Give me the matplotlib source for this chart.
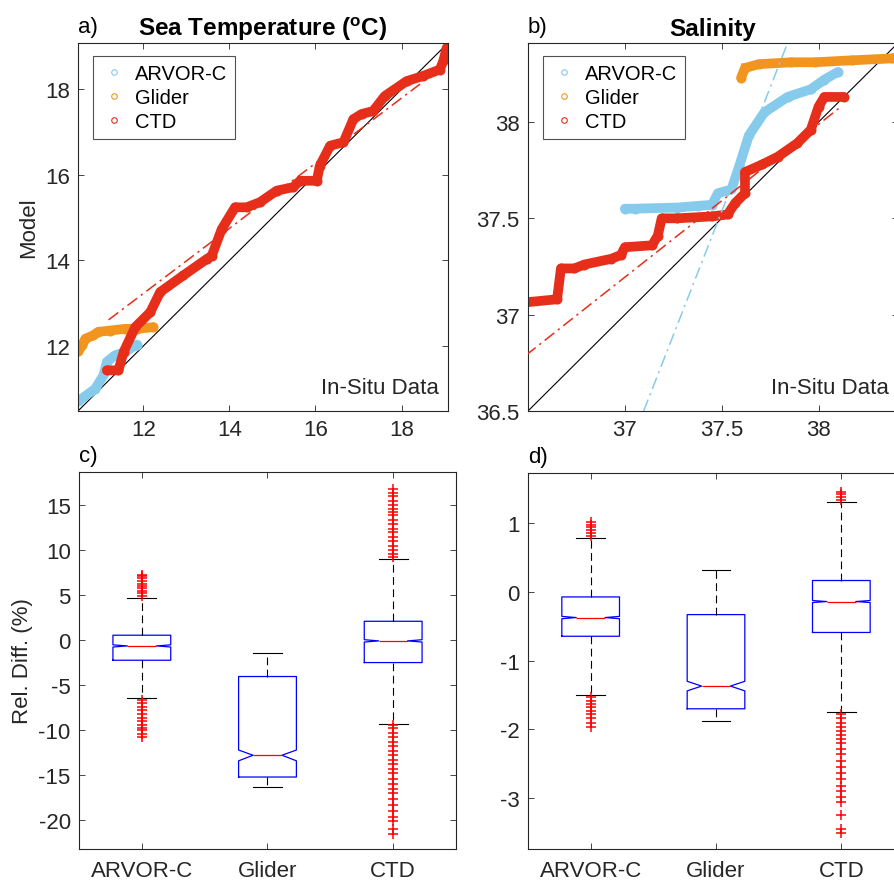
import numpy as np
import matplotlib.pyplot as plt
from matplotlib.lines import Line2D

plt.rcParams["font.family"] = ["Liberation Sans", "DejaVu Sans"]
plt.rcParams["axes.unicode_minus"] = False

C_ARVOR = "#86CBEC"
C_GLIDER = "#F2951F"
C_CTD = "#E62E1B"
TXT = "#262626"

# ---- a) temperature quantiles (in-situ, model)
t_arvor_x = [10.49, 10.88, 11.07, 11.15, 11.34, 11.57, 11.85]
t_arvor_y = [10.71, 11.00, 11.31, 11.63, 11.78, 11.86, 12.03]
t_glider_x = [10.49, 10.58, 10.65, 10.84, 10.95, 11.23, 11.57, 11.85, 12.23]
t_glider_y = [11.88, 12.02, 12.17, 12.25, 12.33, 12.36, 12.40, 12.40, 12.44]
t_ctd_x = [11.15, 11.42, 11.54, 11.81, 12.16, 12.39, 12.93, 13.47, 13.59, 13.82,
           14.13, 14.40, 14.71, 15.10, 15.48, 15.64, 16.03, 16.10, 16.34, 16.65,
           16.88, 17.07, 17.34, 17.61, 18.12, 18.50, 18.89, 18.97, 19.05]
t_ctd_y = [11.43, 11.43, 11.86, 12.44, 12.79, 13.26, 13.65, 14.03, 14.11, 14.73,
           15.24, 15.24, 15.36, 15.63, 15.71, 15.86, 15.86, 16.21, 16.68, 16.76,
           17.30, 17.42, 17.49, 17.84, 18.19, 18.31, 18.46, 18.66, 18.97]
t_ctd_ref = ([11.19, 18.43], [12.61, 18.12])
t_lim = (10.48, 19.08)

# ---- b) salinity quantiles
s_arvor_x = [37.00, 37.05, 37.27, 37.38, 37.45, 37.48, 37.55, 37.59, 37.64,
             37.72, 37.84, 37.96, 38.03, 38.10]
s_arvor_y = [37.55, 37.55, 37.556, 37.565, 37.57, 37.63, 37.65, 37.77, 37.93,
             38.05, 38.13, 38.17, 38.22, 38.26]
s_glider_x = [37.60, 37.62, 37.69, 37.86, 37.98, 38.17, 38.38, 38.45]
s_glider_y = [38.23, 38.28, 38.30, 38.31, 38.31, 38.32, 38.33, 38.34]
s_ctd_x = [36.49, 36.65, 36.67, 36.74, 36.79, 36.93, 36.98, 37.00, 37.14, 37.17,
           37.19, 37.27, 37.45, 37.53, 37.57, 37.62, 37.62, 37.71, 37.79, 37.89,
           37.96, 38.00, 38.03, 38.13]
s_ctd_y = [37.064, 37.08, 37.24, 37.24, 37.26, 37.29, 37.31, 37.35, 37.36, 37.41,
           37.50, 37.50, 37.51, 37.52, 37.58, 37.63, 37.74, 37.78, 37.82, 37.89,
           37.96, 38.08, 38.13, 38.13]
s_ctd_ref = ([36.49, 38.11], [36.79, 38.075])
s_arvor_ref = ([37.097, 37.84], [36.5, 38.41])
s_glider_ref = ([37.60, 38.45], [38.30, 38.34])
s_lim = (36.5, 38.41)

# ---- c), d) relative differences (%)
groups = ["ARVOR-C", "Glider", "CTD"]
temp_stats = {
    "q1": [-2.22, -15.2, -2.48], "med": [-0.63, -12.78, -0.07], "q3": [0.56, -4.03, 2.11],
    "lo": [-6.44, -16.3, -9.28], "hi": [4.74, -1.44, 9.08],
    "cilo": [-0.75, -13.4, -0.2], "cihi": [-0.51, -12.2, 0.06],
}
temp_fliers = [
    [4.9, 5.2, 5.5, 5.8, 6.0, 6.3, 6.6, 6.9, 7.1, 7.3,
     -6.6, -7.0, -7.4, -7.8, -8.2, -8.6, -9.0, -9.4, -9.7, -10.0, -10.4, -10.8],
    [],
    [9.2, 9.6, 10.0, 10.5, 11.0, 11.5, 12.0, 12.4, 12.9, 13.4, 13.9, 14.3, 14.6,
     15.0, 15.5, 16.0, 16.4, 16.8,
     -9.4, -9.8, -10.3, -10.8, -11.3, -11.8, -12.3, -12.8, -13.3, -13.8, -14.3,
     -14.8, -15.4, -16.0, -16.5, -17.0, -17.6, -18.3, -19.0, -19.6, -20.1, -21.0, -21.5],
]
sal_stats = {
    "q1": [-0.645, -1.70, -0.59], "med": [-0.373, -1.37, -0.14], "q3": [-0.073, -0.33, 0.166],
    "lo": [-1.50, -1.88, -1.75], "hi": [0.79, 0.316, 1.31],
    "cilo": [-0.39, -1.44, -0.155], "cihi": [-0.356, -1.30, -0.125],
}
sal_fliers = [
    [0.82, 0.86, 0.90, 0.94, 0.98, 1.01,
     -1.53, -1.58, -1.63, -1.68, -1.73, -1.78, -1.84, -1.90, -1.96],
    [],
    [1.34, 1.38, 1.42, 1.46,
     -1.78, -1.84, -1.90, -1.96, -2.02, -2.08, -2.14, -2.20, -2.28, -2.36, -2.46,
     -2.55, -2.64, -2.72, -2.82, -2.90, -2.98, -3.06, -3.24, -3.45, -3.50],
]


def style_axes(ax):
    ax.tick_params(direction="in", length=4, width=0.6, top=True, right=True,
                   labelsize=16, colors=TXT, pad=6)
    for sp in ax.spines.values():
        sp.set_linewidth(0.8)
        sp.set_color(TXT)


def qq_panel(ax, series, lim, refs, title, letter, ticks):
    ax.plot(lim, lim, color="black", lw=0.8, zorder=1)
    for x, y, c in series:
        ax.plot(x, y, "-o", color=c, lw=7, ms=6, mfc="none", mew=1.2,
                solid_joinstyle="round", solid_capstyle="round", zorder=2)
    for (rx, ry), c in refs:
        ax.plot(rx, ry, color=c, lw=1.1, ls=(0, (8, 3, 1.5, 3)), zorder=3)
    ax.set_xlim(lim)
    ax.set_ylim(lim)
    ax.set_xticks(ticks)
    ax.set_yticks(ticks)
    ax.set_xticklabels([f"{t:g}" for t in ticks])
    ax.set_yticklabels([f"{t:g}" for t in ticks])
    style_axes(ax)
    ax.text(0.975, 0.035, "In-Situ Data", transform=ax.transAxes, ha="right",
            va="bottom", fontsize=16, color=TXT)
    ax.set_title(title, fontsize=17.5, fontweight="bold", color="black", pad=6)
    ax.text(0.0, 1.015, letter, transform=ax.transAxes, ha="left", va="bottom",
            fontsize=16, color="black")
    handles = [Line2D([], [], ls="none", marker="o", ms=4, mfc="none", mew=0.8,
                      color=c) for c in (C_ARVOR, C_GLIDER, C_CTD)]
    ax.legend(handles, groups, loc="upper left", bbox_to_anchor=(0.04, 0.965),
              borderaxespad=0, fontsize=14.5, frameon=True, fancybox=False,
              edgecolor=TXT, borderpad=0.4, handletextpad=0.4, labelspacing=0.25,
              handlelength=1.3).get_frame().set_linewidth(0.8)


def box_panel(ax, stats, fliers, ylim, yticks, letter):
    bstats = []
    for i, name in enumerate(groups):
        bstats.append(dict(label=name, q1=stats["q1"][i], med=stats["med"][i],
                           q3=stats["q3"][i], whislo=stats["lo"][i],
                           whishi=stats["hi"][i], cilo=stats["cilo"][i],
                           cihi=stats["cihi"][i], fliers=fliers[i]))
    ax.bxp(bstats, positions=[1, 2, 3], widths=0.46, shownotches=True,
           boxprops=dict(color="#0000FF", lw=0.9),
           medianprops=dict(color="#FF0000", lw=0.9),
           whiskerprops=dict(color="black", lw=0.8, ls=(0, (7, 4))),
           capprops=dict(color="black", lw=0.8),
           flierprops=dict(marker="+", markeredgecolor="#FF0000", ms=7, mew=1.1))
    ax.set_xlim(0.5, 3.5)
    ax.set_ylim(ylim)
    ax.set_yticks(yticks)
    ax.set_yticklabels([f"{t:g}" for t in yticks])
    style_axes(ax)
    ax.tick_params(axis="x", pad=8)
    ax.text(0.0, 1.015, letter, transform=ax.transAxes, ha="left", va="bottom",
            fontsize=16, color="black")


fig = plt.figure(figsize=(8.94, 8.87), dpi=100)
W, H = 894, 887


def add_ax(l, t, w, h):
    return fig.add_axes([l / W, (H - t - h) / H, w / W, h / H])


ax_a = add_ax(78, 44, 370, 368)
ax_b = add_ax(528, 44, 370, 368)
ax_c = add_ax(79, 473, 377, 377)
ax_d = add_ax(528, 474, 376, 376)

qq_panel(ax_a,
         [(t_arvor_x, t_arvor_y, C_ARVOR), (t_glider_x, t_glider_y, C_GLIDER),
          (t_ctd_x, t_ctd_y, C_CTD)],
         t_lim, [(t_ctd_ref, C_CTD)],
         "Sea Temperature ($\\mathregular{^{o}}$C)", "a)", [12, 14, 16, 18])
ax_a.set_ylabel("Model", fontsize=16, color=TXT, labelpad=4)

qq_panel(ax_b,
         [(s_arvor_x, s_arvor_y, C_ARVOR), (s_glider_x, s_glider_y, C_GLIDER),
          (s_ctd_x, s_ctd_y, C_CTD)],
         s_lim, [(s_ctd_ref, C_CTD), (s_arvor_ref, C_ARVOR), (s_glider_ref, C_GLIDER)],
         "Salinity", "b)", [36.5, 37, 37.5, 38])
ax_b.set_xticks([37, 37.5, 38])
ax_b.set_xticklabels(["37", "37.5", "38"])

box_panel(ax_c, temp_stats, temp_fliers, (-23.2, 18.7),
          [-20, -15, -10, -5, 0, 5, 10, 15], "c)")
ax_c.set_ylabel("Rel. Diff. (%)", fontsize=16, color=TXT, labelpad=4)
box_panel(ax_d, sal_stats, sal_fliers, (-3.74, 1.73), [-3, -2, -1, 0, 1], "d)")

fig.savefig("out.png", dpi=100)
